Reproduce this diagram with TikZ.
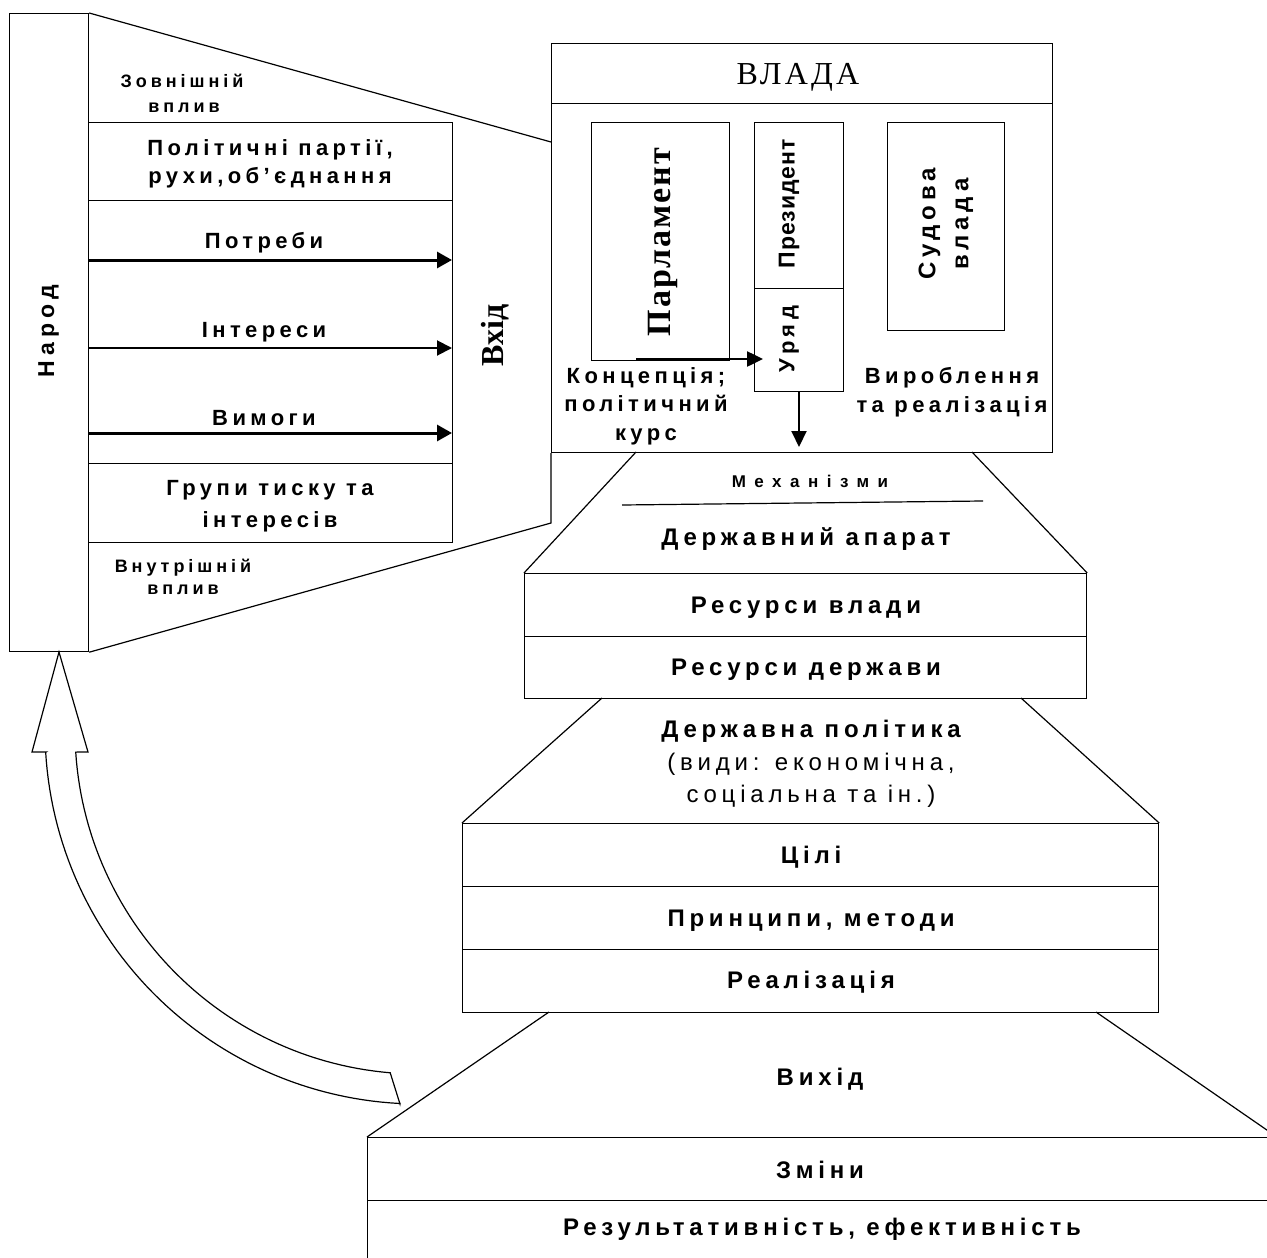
\documentclass[tikz,border=0pt]{standalone}
\usepackage{fontspec}
\setmainfont{Liberation Serif}
\newfontfamily\sflab[LetterSpace=20]{Liberation Sans}
\newfontfamily\sfsmall[LetterSpace=22]{Liberation Sans}
\newfontfamily\sfwide[LetterSpace=50]{Liberation Sans}
\newfontfamily\sfpres[LetterSpace=4]{Liberation Sans}
\newfontfamily\serifsp[LetterSpace=6]{Liberation Serif}
\newfontfamily\serifwide[LetterSpace=10]{Liberation Serif}
\usetikzlibrary{arrows.meta}
\begin{document}
\begin{tikzpicture}[x=1pt,y=-1pt,
  box/.style={draw, line width=1.2pt, inner sep=0pt, anchor=north west},
  ln/.style={line width=1.2pt},
  lab/.style={inner sep=0pt, anchor=base, font=\fontsize{22}{26}\selectfont\sflab\bfseries},
  labR/.style={inner sep=0pt, anchor=base, font=\fontsize{24}{28}\selectfont\sflab\bfseries},
  labreg/.style={inner sep=0pt, anchor=base, font=\fontsize{24}{28}\selectfont\sflab},
  small/.style={inner sep=0pt, anchor=base, font=\fontsize{18}{20}\selectfont\sfsmall\bfseries},
  rot/.style={inner sep=0pt, anchor=center, rotate=90},
  thickarr/.style={line width=3pt, -{Triangle[length=15pt,width=16pt]}},
  medarr/.style={line width=2pt, -{Triangle[length=15pt,width=15pt]}},
]
\useasboundingbox (0,0) rectangle (1267,1258);
\clip (0,0) rectangle (1267,1258);
\fill[white] (0,0) rectangle (1267,1258);

% ---------- People block ----------
\node[box, minimum width=79pt, minimum height=638pt] (narod) at (9,13) {};
\node[rot, font=\fontsize{23}{26}\selectfont\sfsmall\bfseries] (narodt) at (48.5,331) {Народ};
\node[box, minimum width=364pt, minimum height=420pt] (inframe) at (88,122) {};
\node[box, minimum width=364pt, minimum height=78pt] (partii) at (88,122) {};
\node[box, minimum width=364pt, minimum height=79pt] (grupy) at (88,463) {};

\node[small] (zovn1) at (182,87) {Зовнішній};
\node[small] (zovn2) at (184,112) {вплив};
\node[lab] (pol1) at (270,155) {Політичні партії,};
\node[lab] (pol2) at (270,183) {рухи,об’єднання};
\node[lab] (potreby) at (264,248) {Потреби};
\node[lab] (interesy) at (264,337) {Інтереси};
\node[lab] (vymogy) at (264,425) {Вимоги};
\node[lab] (gr1) at (270,495) {Групи тиску та};
\node[lab] (gr2) at (270,527) {інтересів};
\node[small] (vnut1) at (183,572) {Внутрішній};
\node[small] (vnut2) at (183,594) {вплив};

\coordinate (a1s) at (88,260);  \coordinate (a1e) at (452,260);
\coordinate (a2s) at (88,348);  \coordinate (a2e) at (452,348);
\coordinate (a3s) at (88,433);  \coordinate (a3e) at (452,433);
\draw[thickarr] (a1s) -- (a1e);
\draw[medarr] (a2s) -- (a2e);
\draw[thickarr] (a3s) -- (a3e);

\node[rot, font=\fontsize{32}{36}\selectfont\bfseries] (vhid) at (495,335) {Вхід};

% ---------- Power block ----------
\node[box, minimum width=501pt, minimum height=409pt] (vlada) at (551,43) {};
\node[box, minimum width=501pt, minimum height=60pt] (vladatop) at (551,43) {};
\node[inner sep=0pt, anchor=base, font=\fontsize{32}{36}\selectfont\serifwide] (vladat) at (798,84) {ВЛАДА};

\coordinate (topjoin) at (551,142);
\coordinate (botjoin) at (551,523);
\draw[ln] (narod.north east) -- (topjoin);
\draw[ln] (narod.south east) -- (botjoin) -- (vlada.south west);

\node[box, minimum width=138pt, minimum height=238pt] (parl) at (591,122) {};
\node[rot, font=\fontsize{34}{38}\selectfont\serifsp\bfseries] (parlt) at (663,242) {Парламент};
\node[box, minimum width=89pt, minimum height=166pt] (pres) at (754,122) {};
\node[rot, font=\fontsize{23}{26}\selectfont\sfpres\bfseries] (prest) at (789,204) {Президент};
\node[box, minimum width=89pt, minimum height=103pt] (uryad) at (754,288) {};
\node[rot, font=\fontsize{22}{26}\selectfont\sflab\bfseries] (uryadt) at (789,339) {Уряд};
\node[box, minimum width=117pt, minimum height=208pt] (sud) at (887,122) {};
\node[rot, align=center, font=\fontsize{24}{33}\selectfont\sflab\bfseries] (sudt) at (946,224) {Судова\\влада};

\coordinate (pa1) at (636,359);
\coordinate (pa2) at (763,359);
\draw[line width=2.5pt, -{Triangle[length=16pt,width=15pt]}] (pa1) -- (pa2);
\coordinate (ua1) at (799,391);
\coordinate (ua2) at (799,447);
\draw[line width=2pt, -{Triangle[length=16pt,width=15pt]}] (ua1) -- (ua2);

\node[lab] (konc1) at (646,383) {Концепція;};
\node[lab] (konc2) at (646,411) {політичний};
\node[lab] (konc3) at (646,440) {курс};
\node[lab] (vyr1) at (952,383) {Вироблення};
\node[lab] (vyr2) at (952,412) {та реалізація};

% ---------- Mechanisms ----------
\node[box, minimum width=562pt, minimum height=63pt] (resv) at (524,573) {};
\node[box, minimum width=562pt, minimum height=62pt] (resd) at (524,636) {};
\coordinate (m1) at (636,452);
\coordinate (m2) at (972,452);
\draw[ln] (m1) -- (resv.north west);
\draw[ln] (m2) -- (resv.north east);
\node[inner sep=0pt, anchor=base, font=\fontsize{17}{20}\selectfont\sfwide\bfseries] (mech) at (810,487) {Механізми};
\coordinate (ml1) at (622,505);
\coordinate (ml2) at (983,501);
\draw[ln] (ml1) -- (ml2);
\node[labR] (aparat) at (806,545) {Державний апарат};
\node[labR] (resvt) at (806,613) {Ресурси влади};
\node[labR] (resdt) at (806,675) {Ресурси держави};

% ---------- Policy ----------
\node[box, minimum width=696pt, minimum height=63pt] (tsili) at (462,823) {};
\node[box, minimum width=696pt, minimum height=63pt] (prin) at (462,886) {};
\node[box, minimum width=696pt, minimum height=63pt] (real) at (462,949) {};
\coordinate (p1) at (602,698);
\coordinate (p2) at (1021,698);
\draw[ln] (p1) -- (tsili.north west);
\draw[ln] (p2) -- (tsili.north east);
\node[labR] (polt1) at (811,737) {Державна політика};
\node[labreg] (polt2) at (811,770) {(види: економічна,};
\node[labreg] (polt3) at (811,802) {соціальна та ін.)};
\node[labR] (tsilit) at (811,863) {Цілі};
\node[labR] (print) at (811,926) {Принципи, методи};
\node[labR] (realt) at (811,988) {Реалізація};

% ---------- Output ----------
\node[box, minimum width=950pt, minimum height=63pt] (zminy) at (367,1137) {};
\node[box, minimum width=950pt, minimum height=100pt] (rez) at (367,1200) {};
\coordinate (o1) at (549,1012);
\coordinate (o2) at (1096,1012);
\coordinate (o3) at (1277,1137);
\draw[ln] (o1) -- (zminy.north west);
\draw[ln] (o2) -- (o3);
\node[labR] (vyhid) at (820,1085) {Вихід};
\node[labR] (zminyt) at (820,1178) {Зміни};
\node[labR] (rezt) at (822,1235) {Результативність, ефективність};

% ---------- Feedback hollow arrow ----------
\draw[line width=1.2pt, line join=miter]
  (46,752) -- (32,752) -- (59,652) -- (88,752) -- (78,752)
  -- plot[domain=176.3:94.8, samples=60] ({419+344*cos(\x)},{730+344*sin(\x)})
  -- (400,1104)
  -- plot[domain=92.9:176.6, samples=60] ({419+374*cos(\x)},{730+374*sin(\x)})
  -- cycle;
\end{tikzpicture}
\end{document}
